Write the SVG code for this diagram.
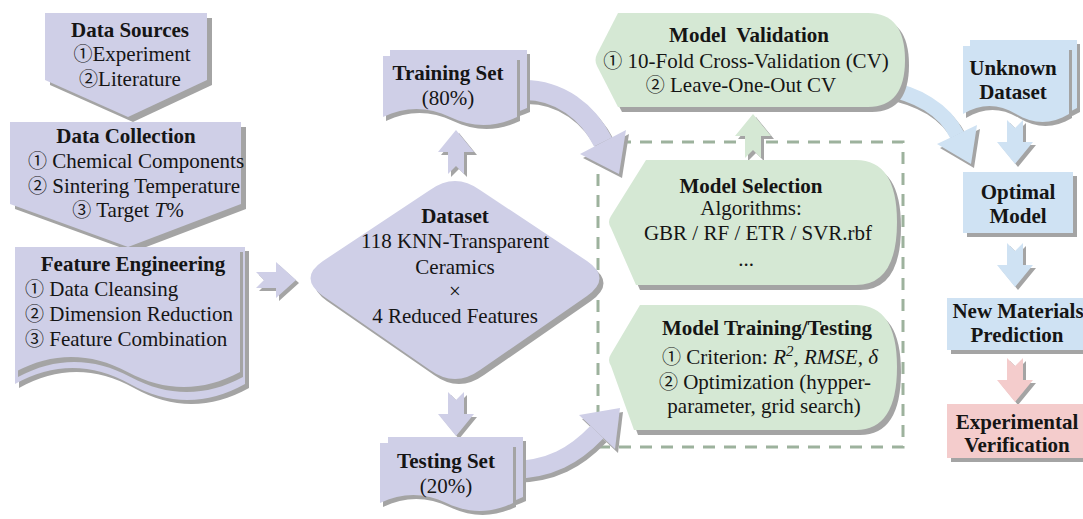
<svg xmlns="http://www.w3.org/2000/svg" width="1083" height="519" viewBox="0 0 1083 519">
<style>
.t{font-family:"Liberation Serif",serif;font-size:21px;fill:#151515}
.c{font-family:"DejaVu Serif","Noto Sans CJK SC",sans-serif;font-size:19px}
.m{text-anchor:middle}
.b{font-weight:bold}
.i{font-style:italic}
.sh{fill:#a4a4a4}
.pu{fill:#cfcfe7}
.gr{fill:#d5e8d4}
.bl{fill:#cfe2f3}
.pk{fill:#f4cccc}
.shl{stroke:#a4a4a4;fill:none}
.pul{stroke:#cfcfe7;fill:none}
.bll{stroke:#cfe2f3;fill:none}
.dash{fill:none;stroke:#9db29d;stroke-width:3;stroke-dasharray:12 9}
</style>
<defs>
<path id="dn" d="M-8,-22 L0,-14 L8,-22 L8,0 L18,0 L0,22 L-18,0 L-8,0 Z"/>
<path id="up" d="M-8,22 L0,14 L8,22 L8,0 L18,0 L0,-22 L-18,0 L-8,0 Z"/>
<path id="rt" d="M-20,-8 L0,-8 L0,-18 L20,0 L0,18 L0,8 L-20,8 L-12,0 Z"/>
</defs>

<rect class="dash" x="598" y="142" width="305" height="305"/>

<g id="connectors">
  <path class="shl" stroke-width="20" d="M527,94 C563,94 591,116 606,146"/>
  <polygon class="sh" points="629,134 583,158 622,178"/>
  <path class="pul" stroke-width="20" d="M524,90 C560,90 588,112 603,142"/>
  <polygon class="pu" points="626,130 580,154 619,174"/>
  <path class="shl" stroke-width="18" d="M513,474 C553,474 578,459 600,436"/>
  <polygon class="sh" points="618,453 582,419 623,412"/>
  <path class="pul" stroke-width="18" d="M510,470 C550,470 575,455 597,432"/>
  <polygon class="pu" points="615,449 579,415 620,408"/>
  <path class="shl" stroke-width="15" d="M885,92 C920,97 948,114 960,139"/>
  <polygon class="sh" points="980,129 940,148 974,168"/>
  <path class="bll" stroke-width="15" d="M882,88 C917,93 945,110 957,135"/>
  <polygon class="bl" points="977,125 937,144 971,164"/>
  <use href="#rt" class="sh" transform="translate(279,283)"/>
  <use href="#rt" class="pu" transform="translate(276,280)"/>
  <use href="#up" class="sh" transform="translate(459,155)"/>
  <use href="#up" class="pu" transform="translate(456,152)"/>
  <use href="#dn" class="sh" transform="translate(459,417)"/>
  <use href="#dn" class="pu" transform="translate(456,414)"/>
  <use href="#up" class="sh" transform="translate(756,139)"/>
  <use href="#up" class="gr" transform="translate(753,136)"/>
  <use href="#dn" class="sh" transform="translate(1018,145)"/>
  <use href="#dn" class="bl" transform="translate(1015,142)"/>
  <use href="#dn" class="sh" transform="translate(1018,268)"/>
  <use href="#dn" class="bl" transform="translate(1015,265)"/>
  <use href="#dn" class="sh" transform="translate(1018,383)"/>
  <use href="#dn" class="pk" transform="translate(1015,380)"/>
</g>

<g id="data-sources">
  <polygon class="sh" points="50,18 212,18 212,85 133,122 50,85"/>
  <polygon class="pu" points="45,13 207,13 207,80 128,117 45,80"/>
  <text class="t m b" x="130" y="37">Data Sources</text>
  <text class="t m" x="132" y="61"><tspan class="c">①</tspan>Experiment</text>
  <text class="t m" x="130" y="86"><tspan class="c">②</tspan>Literature</text>
</g>

<g id="data-collection">
  <polygon class="sh" points="15,127 246,127 246,209 133,252 15,209"/>
  <polygon class="pu" points="10,122 241,122 241,204 128,247 10,204"/>
  <text class="t m b" x="126" y="143">Data Collection</text>
  <text class="t m" x="136" y="168"><tspan class="c">①</tspan> Chemical Components</text>
  <text class="t m" x="134" y="193"><tspan class="c">②</tspan> Sintering Temperature</text>
  <text class="t m" x="128" y="217"><tspan class="c">③</tspan> Target <tspan class="i">T</tspan>%</text>
</g>

<g id="feature-engineering">
  <path class="sh" transform="translate(4,4)" d="M15,247 H245 V384 C206.7,405.3 168.3,405.3 130,384 C91.7,362.7 53.3,362.7 15,384 Z"/>
  <path class="pu" d="M15,247 H245 V384 C206.7,405.3 168.3,405.3 130,384 C91.7,362.7 53.3,362.7 15,384 Z"/>
  <path class="sh" transform="translate(3,5)" d="M15,247 H240 V372 C202.5,392 165,392 127.5,372 C90,352 52.5,352 15,372 Z"/>
  <path class="pu" d="M15,247 H240 V372 C202.5,392 165,392 127.5,372 C90,352 52.5,352 15,372 Z"/>
  <text class="t m b" x="133" y="271">Feature Engineering</text>
  <text class="t" x="25" y="296"><tspan class="c">①</tspan> Data Cleansing</text>
  <text class="t" x="25" y="321"><tspan class="c">②</tspan> Dimension Reduction</text>
  <text class="t" x="25" y="346"><tspan class="c">③</tspan> Feature Combination</text>
</g>

<g id="dataset">
  <path class="sh" transform="translate(4,5)" d="M323,261 L430,190 Q455,172 480,190 L587,261 Q612,278 587,296 L480,370 Q455,388 430,370 L323,296 Q298,278 323,261 Z"/>
  <path class="pu" d="M323,261 L430,190 Q455,172 480,190 L587,261 Q612,278 587,296 L480,370 Q455,388 430,370 L323,296 Q298,278 323,261 Z"/>
  <text class="t m b" x="455" y="223">Dataset</text>
  <text class="t m" x="455" y="248">118 KNN-Transparent</text>
  <text class="t m" x="455" y="274">Ceramics</text>
  <text class="t m" x="455" y="298">×</text>
  <text class="t m" x="455" y="323">4 Reduced Features</text>
</g>

<g id="training-set">
  <path class="sh" transform="translate(3,4)" d="M390,50 H527 V108 C504.2,118.6 481.3,118.6 458.5,108 C435.7,97.4 412.8,97.4 390,108 Z"/>
  <path class="pu" d="M390,50 H527 V108 C504.2,118.6 481.3,118.6 458.5,108 C435.7,97.4 412.8,97.4 390,108 Z"/>
  <path class="sh" transform="translate(3,4)" d="M383,56 H517 V117 C494.7,127.6 472.3,127.6 450,117 C427.7,106.4 405.3,106.4 383,117 Z"/>
  <path class="pu" d="M383,56 H517 V117 C494.7,127.6 472.3,127.6 450,117 C427.7,106.4 405.3,106.4 383,117 Z"/>
  <text class="t m b" x="448" y="80">Training Set</text>
  <text class="t m" x="448" y="105">(80%)</text>
</g>

<g id="testing-set">
  <path class="sh" transform="translate(3,4)" d="M388,437 H523 V497 C500.5,507.6 478,507.6 455.5,497 C433,486.4 410.5,486.4 388,497 Z"/>
  <path class="pu" d="M388,437 H523 V497 C500.5,507.6 478,507.6 455.5,497 C433,486.4 410.5,486.4 388,497 Z"/>
  <path class="sh" transform="translate(3,4)" d="M380,443 H513 V503 C490.8,513.6 468.7,513.6 446.5,503 C424.3,492.4 402.2,492.4 380,503 Z"/>
  <path class="pu" d="M380,443 H513 V503 C490.8,513.6 468.7,513.6 446.5,503 C424.3,492.4 402.2,492.4 380,503 Z"/>
  <text class="t m b" x="446" y="468">Testing Set</text>
  <text class="t m" x="446" y="493">(20%)</text>
</g>

<g id="model-validation">
  <path class="sh" transform="translate(4,5)" d="M618,13 H868 Q905,13 905,60 Q905,107 868,107 H618 L597,66 Q594,60 597,54 Z"/>
  <path class="gr" d="M618,13 H868 Q905,13 905,60 Q905,107 868,107 H618 L597,66 Q594,60 597,54 Z"/>
  <text class="t m b" x="749" y="42">Model&#160; Validation</text>
  <text class="t m" x="746" y="68"><tspan class="c">①</tspan> 10-Fold Cross-Validation (CV)</text>
  <text class="t m" x="741" y="92"><tspan class="c">②</tspan> Leave-One-Out CV</text>
</g>

<g id="model-selection">
  <path class="sh" transform="translate(4,5)" d="M646,160 H856 Q897,160 897,222 Q897,285 856,285 H636 L611,228 Q607,222 611,216 Z"/>
  <path class="gr" d="M646,160 H856 Q897,160 897,222 Q897,285 856,285 H636 L611,228 Q607,222 611,216 Z"/>
  <text class="t m b" x="751" y="193">Model Selection</text>
  <text class="t m" x="751" y="215">Algorithms:</text>
  <text class="t m" x="758" y="240">GBR / RF / ETR / SVR.rbf</text>
  <text class="t m" x="746" y="266">...</text>
</g>

<g id="model-training-testing">
  <path class="sh" transform="translate(4,5)" d="M640,305 H856 Q897,305 897,367 Q897,430 856,430 H634 L611,366 Q607,360 611,354 Z"/>
  <path class="gr" d="M640,305 H856 Q897,305 897,367 Q897,430 856,430 H634 L611,366 Q607,360 611,354 Z"/>
  <text class="t m b" x="767" y="335">Model Training/Testing</text>
  <text class="t m" x="770" y="364"><tspan class="c">①</tspan> Criterion: <tspan class="i">R</tspan><tspan class="i" font-size="15" dy="-8">2</tspan><tspan class="i" dy="8">, RMSE, δ</tspan></text>
  <text class="t m" x="765" y="389"><tspan class="c">②</tspan> Optimization (hypper-</text>
  <text class="t m" x="764" y="413">parameter, grid search)</text>
</g>

<g id="unknown-dataset">
  <path class="sh" transform="translate(3,4)" d="M970,40 H1077 V108 C1059.2,118.6 1041.3,118.6 1023.5,108 C1005.7,97.4 987.8,97.4 970,108 Z"/>
  <path class="bl" d="M970,40 H1077 V108 C1059.2,118.6 1041.3,118.6 1023.5,108 C1005.7,97.4 987.8,97.4 970,108 Z"/>
  <path class="sh" transform="translate(3,4)" d="M963,46 H1069 V114 C1051.3,124.6 1033.7,124.6 1016,114 C998.3,103.4 980.7,103.4 963,114 Z"/>
  <path class="bl" d="M963,46 H1069 V114 C1051.3,124.6 1033.7,124.6 1016,114 C998.3,103.4 980.7,103.4 963,114 Z"/>
  <text class="t m b" x="1013" y="75">Unknown</text>
  <text class="t m b" x="1013" y="99">Dataset</text>
</g>

<g id="optimal-model">
  <rect class="sh" x="967" y="176" width="110" height="61"/>
  <rect class="bl" x="963" y="172" width="110" height="61"/>
  <text class="t m b" x="1018" y="199">Optimal</text>
  <text class="t m b" x="1018" y="223">Model</text>
</g>

<g id="new-materials-prediction">
  <rect class="sh" x="951" y="302" width="150" height="52"/>
  <rect class="bl" x="947" y="298" width="150" height="52"/>
  <text class="t m b" x="1018" y="318">New Materials</text>
  <text class="t m b" x="1017" y="342">Prediction</text>
</g>

<g id="experimental-verification">
  <rect class="sh" x="951" y="408" width="150" height="54"/>
  <rect class="pk" x="947" y="404" width="150" height="54"/>
  <text class="t m b" x="1017" y="429">Experimental</text>
  <text class="t m b" x="1017" y="452">Verification</text>
</g>
</svg>
